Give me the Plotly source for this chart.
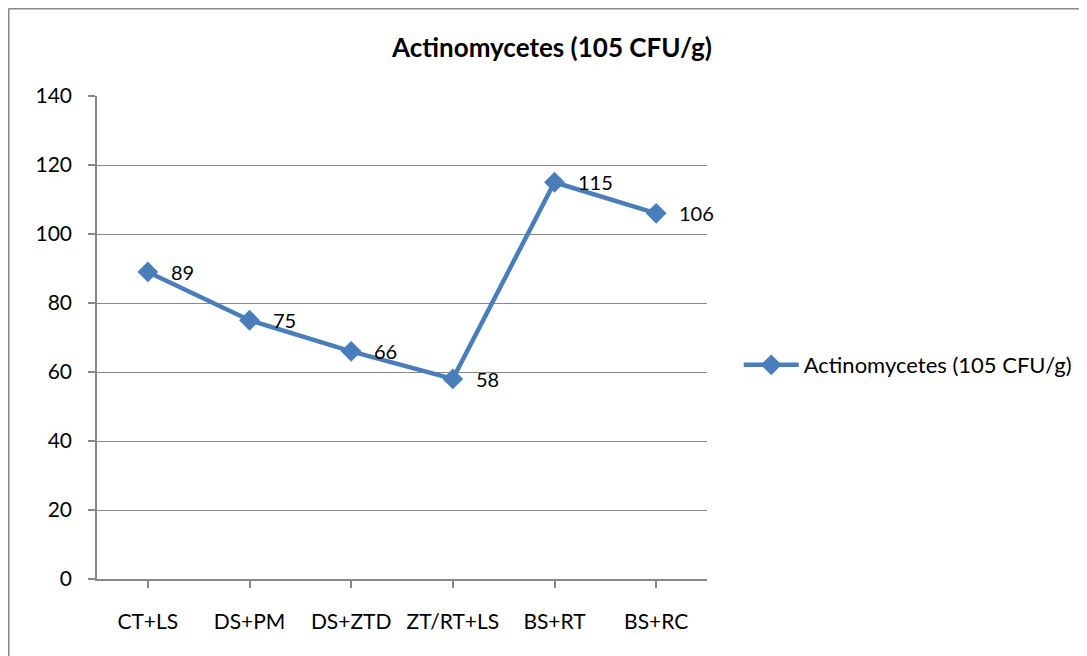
import plotly.graph_objects as go

categories = ["CT+LS", "DS+PM", "DS+ZTD", "ZT/RT+LS", "BS+RT", "BS+RC"]
values = [89, 75, 66, 58, 115, 106]
series_name = "Actinomycetes (105 CFU/g)"
title_text = "Actinomycetes (105 CFU/g)"
y_ticks = [0, 20, 40, 60, 80, 100, 120, 140]

FONT = "Lato, 'Open Sans', sans-serif"
BLUE = "#4a7ebb"
GRAY = "#888888"

# page body has an 8px margin; figure origin sits at screen (8, 8)
OFF = 8
W, H = 1087, 656
L, T = 97 - OFF, 96 - OFF
PW, PH = 610, 483
R = W - L - PW
B = H - T - PH

fig = go.Figure()
fig.add_trace(go.Scatter(
    x=list(range(len(categories))), y=values, mode="lines+markers",
    name=series_name,
    line=dict(color=BLUE, width=4.5),
    marker=dict(symbol="diamond", size=16, color=BLUE),
))

for i, v in enumerate(values):
    fig.add_annotation(x=i, y=v, text=str(v), showarrow=False,
                       xanchor="left", yanchor="middle", xshift=21,
                       font=dict(family=FONT, size=20, color="#000"))

bx = (0.5 - L) / PW
by = 1 + (T - 0.5) / PH
fig.update_layout(
    width=W, height=H,
    margin=dict(l=L, r=R, t=T, b=B),
    paper_bgcolor="white", plot_bgcolor="white",
    font=dict(family=FONT, size=21, color="#000"),
    title=dict(text="<b>" + title_text + "</b>", x=(552 - OFF) / W, xanchor="center",
               y=1 - (48 - OFF) / H, yanchor="middle",
               font=dict(family=FONT, size=26, color="#000")),
    showlegend=True,
    legend=dict(x=1.052, xanchor="left", y=(579 - 365) / PH, yanchor="middle",
                font=dict(family=FONT, size=22, color="#000"),
                bgcolor="rgba(0,0,0,0)", itemwidth=55),
    shapes=[
        dict(type="line", xref="paper", yref="paper", x0=bx, x1=2.0, y0=by, y1=by,
             line=dict(color=GRAY, width=2)),
        dict(type="line", xref="paper", yref="paper", x0=bx, x1=bx, y0=by, y1=-0.3,
             line=dict(color=GRAY, width=2)),
    ],
)

fig.update_xaxes(
    range=[-0.5, len(categories) - 0.5],
    tickmode="array", tickvals=list(range(len(categories))), ticktext=categories,
    showgrid=False, zeroline=False,
    showline=True, linecolor=GRAY, linewidth=1.5,
    ticks="outside", tickson="boundaries", ticklen=7, tickcolor=GRAY, tickwidth=1.5,
    ticklabelstandoff=16,
    tickfont=dict(family=FONT, size=21, color="#000"),
)
fig.update_yaxes(
    range=[0, 140], tickmode="array", tickvals=y_ticks,
    showgrid=True, gridcolor=GRAY, gridwidth=1.2, zeroline=False,
    showline=True, linecolor=GRAY, linewidth=1.5,
    ticks="outside", ticklen=7, tickcolor=GRAY, tickwidth=1.5,
    ticklabelstandoff=12,
    tickfont=dict(family=FONT, size=21, color="#000"),
)

fig.write_html("out.html")
